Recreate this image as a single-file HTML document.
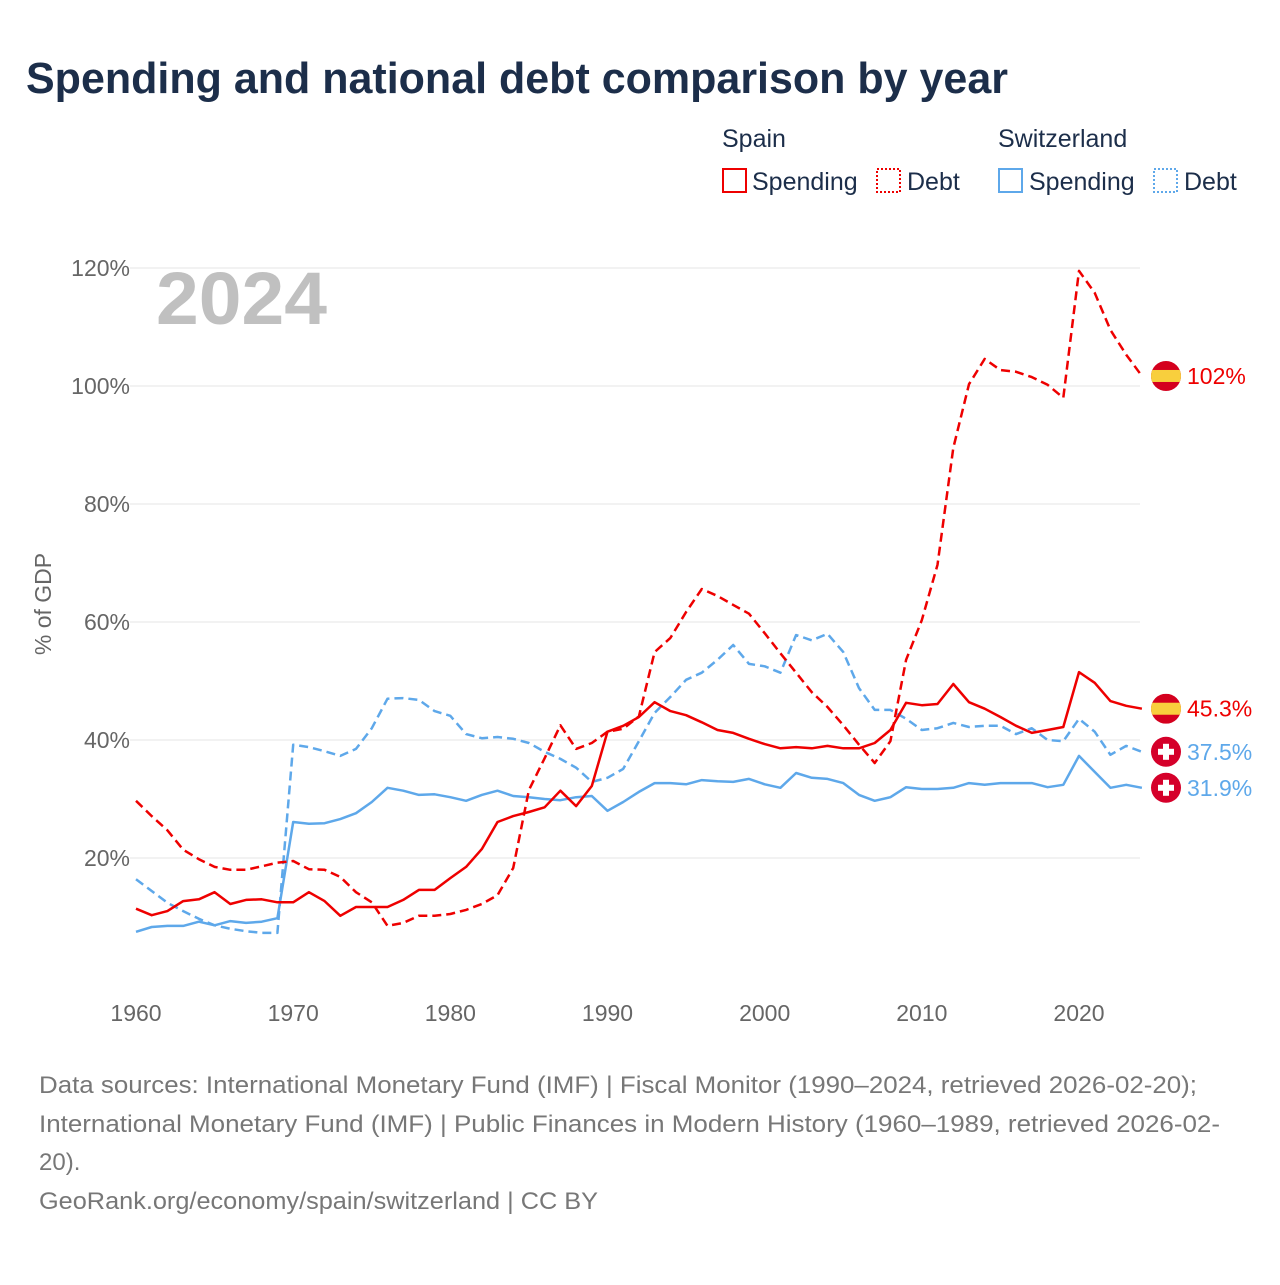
<!DOCTYPE html>
<html><head><meta charset="utf-8"><style>
body{margin:0;background:#fff;width:1280px;height:1280px;overflow:hidden;font-family:"Liberation Sans",sans-serif}
</style></head><body>
<svg id="chart" width="1280" height="1280" xmlns="http://www.w3.org/2000/svg">
<text x="26" y="93" font-size="44" font-weight="bold" fill="#1c2e4a" textLength="982" lengthAdjust="spacingAndGlyphs">Spending and national debt comparison by year</text>
<g font-size="25" fill="#1c2e4a">
<text x="722" y="147">Spain</text>
<text x="998" y="147">Switzerland</text>
<g><rect x="723" y="169" width="23" height="23" fill="none" stroke="#ee0000" stroke-width="2"/><text x="752" y="190">Spending</text></g>
<g><rect x="877" y="169" width="23" height="23" fill="none" stroke="#ee0000" stroke-width="2" stroke-dasharray="2,2"/><text x="907" y="190">Debt</text></g>
<g><rect x="999" y="169" width="23" height="23" fill="none" stroke="#5ea8ea" stroke-width="2"/><text x="1029" y="190">Spending</text></g>
<g><rect x="1154" y="169" width="23" height="23" fill="none" stroke="#5ea8ea" stroke-width="2" stroke-dasharray="2,2"/><text x="1184" y="190">Debt</text></g>
</g>
<text x="156" y="324" font-size="74" font-weight="bold" fill="#c0c0c0" textLength="171" lengthAdjust="spacingAndGlyphs">2024</text>
<text transform="translate(51,604) rotate(-90)" text-anchor="middle" font-size="23" fill="#666">% of GDP</text>
<g id="grid"></g><g id="lines"></g><g id="ends"></g>
<g font-size="24" fill="#777">
<text x="39" y="1093" textLength="1158" lengthAdjust="spacingAndGlyphs">Data sources: International Monetary Fund (IMF) | Fiscal Monitor (1990–2024, retrieved 2026-02-20);</text>
<text x="39" y="1132" textLength="1181" lengthAdjust="spacingAndGlyphs">International Monetary Fund (IMF) | Public Finances in Modern History (1960–1989, retrieved 2026-02-</text>
<text x="39" y="1170">20).</text>
<text x="39" y="1209" textLength="559" lengthAdjust="spacingAndGlyphs">GeoRank.org/economy/spain/switzerland | CC BY</text>
</g>
</svg>
<script>
const years=[];for(let y=1960;y<=2024;y++)years.push(y);
const yTicks=[20,40,60,80,100,120];
const xTicks=[1960,1970,1980,1990,2000,2010,2020];
const esSpending=[11.4,10.3,11,12.7,13,14.2,12.2,12.9,13,12.5,12.5,14.2,12.7,10.2,11.7,11.7,11.7,12.9,14.6,14.6,16.6,18.5,21.5,26.1,27.1,27.8,28.6,31.4,28.8,32.2,41.4,42.4,43.9,46.4,44.9,44.2,43,41.7,41.2,40.2,39.3,38.6,38.8,38.6,39,38.6,38.6,39.5,41.7,46.3,45.9,46.1,49.5,46.4,45.3,43.9,42.4,41.2,41.7,42.2,51.5,49.7,46.6,45.8,45.3];
const esDebt=[29.7,27.1,24.7,21.4,19.8,18.5,18,18,18.6,19.2,19.5,18.1,18,16.8,14.2,12.5,8.5,9,10.2,10.2,10.5,11.2,12.2,13.7,18.3,31.5,36.9,42.5,38.5,39.5,41.4,41.9,44,54.9,57.3,61.7,65.6,64.4,62.9,61.4,58.1,54.7,51.4,48.1,45.6,42.5,39.2,36.1,39.8,53.6,60.3,69.7,89.5,100.3,104.6,102.7,102.4,101.5,100.2,98,119.5,115.8,109.5,105.3,101.7];
const chSpending=[7.5,8.3,8.5,8.5,9.2,8.6,9.3,9,9.2,9.8,26.1,25.8,25.9,26.6,27.6,29.5,31.9,31.4,30.7,30.8,30.3,29.7,30.7,31.4,30.5,30.3,30,29.8,30.3,30.5,28,29.5,31.2,32.7,32.7,32.5,33.2,33,32.9,33.4,32.5,31.9,34.4,33.6,33.4,32.7,30.7,29.7,30.3,32,31.7,31.7,31.9,32.7,32.4,32.7,32.7,32.7,32,32.4,37.3,34.6,31.9,32.4,31.9];
const chDebt=[16.4,14.4,12.4,11,9.7,8.6,8,7.6,7.3,7.3,39.2,38.8,38.1,37.3,38.5,42,47,47.1,46.8,44.9,44.1,41,40.3,40.5,40.2,39.5,38,36.8,35.3,32.9,33.6,35.1,39.8,44.6,47.3,50.2,51.4,53.6,56.1,52.9,52.5,51.4,57.8,56.9,58,54.9,48.8,45.1,45.1,43.6,41.7,42,42.9,42.2,42.4,42.4,41,42,40,39.8,43.6,41.4,37.5,39,38];
const endLabels=["102%","45.3%","37.5%","31.9%"];
const NS="http://www.w3.org/2000/svg";
const X=y=>136+(y-1960)*(1079-136)/60;
const Y=v=>976-v*5.9;
function mk(tag,attrs,parent){const e=document.createElementNS(NS,tag);for(const k in attrs)e.setAttribute(k,attrs[k]);parent.appendChild(e);return e;}
const grid=document.getElementById('grid');
yTicks.forEach(t=>{
 const l=mk('line',{x1:130,x2:1140,y1:Y(t),y2:Y(t),stroke:'#e6e6e6','stroke-width':1},grid);
 
 
 const tx=mk('text',{x:130,y:Y(t)+8,'text-anchor':'end','font-size':23,fill:'#666'},grid);tx.textContent=t+'%';
 
 
});
xTicks.forEach(t=>{
 const tx=mk('text',{x:X(t),y:1021,'text-anchor':'middle','font-size':23,fill:'#666'},grid);tx.textContent=t;
 
 
});
const lines=document.getElementById('lines');
const series=[[chDebt,'#5ea8ea',true,'switzerland-debt-line'],[chSpending,'#5ea8ea',false,'switzerland-spending-line'],[esDebt,'#ee0000',true,'spain-debt-line'],[esSpending,'#ee0000',false,'spain-spending-line']];
series.forEach(s=>{
 const d=s[0].map((v,i)=>(i?'L':'M')+X(years[i]).toFixed(1)+','+Y(v).toFixed(1)).join('');
 const p=mk('path',{d:d,fill:'none',stroke:s[1],'stroke-width':2.5,'stroke-linejoin':'round'},lines);
 if(s[2])p.setAttribute('stroke-dasharray','9,5');
 
 
});
const ends=document.getElementById('ends');
const last=years.length-1;
const endSeries=[[esDebt,'#ee0000',true],[esSpending,'#ee0000',true],[chDebt,'#5ea8ea',false],[chSpending,'#5ea8ea',false]];
endSeries.forEach((s,i)=>{
 const cy=Y(s[0][last]);
 const g=mk('g',{},ends);
 
 
 if(s[2]){
  const clip=mk('clipPath',{id:'c'+i},g);
  mk('circle',{cx:1166,cy:cy,r:15},clip);
  const fg=mk('g',{'clip-path':'url(#c'+i+')'},g);
  mk('rect',{x:1151,y:cy-15,width:30,height:30,fill:'#d4001e'},fg);
  mk('rect',{x:1151,y:cy-6,width:30,height:12,fill:'#f8cf3d'},fg);
 }else{
  mk('circle',{cx:1166,cy:cy,r:15,fill:'#d5002a'},g);
  mk('rect',{x:1163,y:cy-8,width:6,height:16,fill:'#fff'},g);
  mk('rect',{x:1158,y:cy-3,width:16,height:6,fill:'#fff'},g);
 }
 const t=mk('text',{x:1187,y:cy+8,'font-size':23,fill:s[1]},g);t.textContent=endLabels[i];
});
</script>
</body></html>
